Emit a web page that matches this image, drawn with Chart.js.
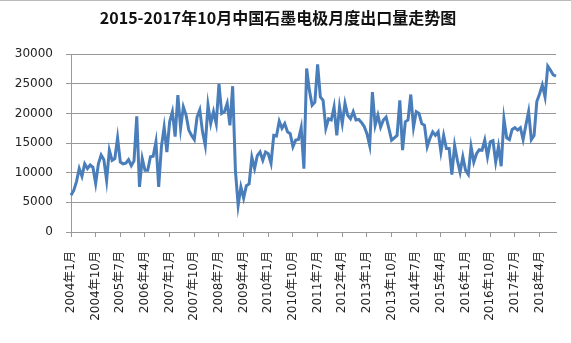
<!DOCTYPE html>
<html>
<head>
<meta charset="utf-8">
<script src="https://cdn.jsdelivr.net/npm/chart.js@4"></script>
<style>
  html, body { margin: 0; padding: 0; background: #fff; }
  .wrap { width: 571px; height: 343px; position: relative; box-sizing: border-box; border-top: 1px solid #bbb; }
</style>
</head>
<body>
<div class="wrap"><canvas id="chart" width="571" height="342"></canvas></div>
<script>
// Monthly categories, 2004年1月 .. 2018年10月
const startYear = 2004
const monthCount = 178
const months = []
for (let i = 0; i < monthCount; i++) {
  months.push(`${startYear + Math.floor(i / 12)}年${(i % 12) + 1}月`)
}

// Export volume
const exportVolume = [
  6200, 7000, 8500, 10700, 9400, 11500, 10700, 11300, 10900, 8200, 11500, 13000,
  12200, 8700, 13800, 12100, 12400, 15900, 11800, 11500, 11600, 12200, 11200, 12000,
  19500, 7600, 12400, 10400, 10400, 12700, 12800, 15200, 7600, 14400, 17700, 13500,
  18600, 20300, 16100, 23100, 17500, 21100, 19700, 17200, 16300, 15600, 19400, 20600,
  16900, 14600, 21400, 18300, 20300, 18300, 25000, 20000, 20300, 21700, 18000, 24600,
  10400, 4500, 7600, 5700, 7800, 8100, 12600, 10700, 12900, 13500, 12100, 13500,
  13200, 11600, 16300, 16200, 18700, 17500, 18300, 16900, 16600, 14400, 15500, 15600,
  17600, 10700, 27600, 23900, 21400, 21900, 28300, 22800, 22200, 17500, 19100, 18900,
  21100, 16300, 21100, 18300, 21700, 19700, 19100, 20300, 18900, 19000, 18500, 17800,
  16600, 14600, 23600, 18000, 19700, 17700, 18900, 19400, 17500, 15500, 15900, 16300,
  22200, 13800, 18600, 18900, 23200, 17700, 20300, 20000, 18300, 18000, 14400, 15800,
  16900, 16300, 16900, 13500, 16300, 14100, 14100, 9700, 14600, 12100, 10100, 12700,
  10400, 9700, 14400, 11800, 13200, 13900, 13800, 15500, 12700, 15200, 15400, 11800,
  14400, 11100, 19100, 15900, 15600, 17300, 17600, 17200, 17600, 15600, 18000, 20300,
  15600, 16300, 22000, 23300, 24800, 22800, 28000, 27300, 26500, 26300
]

const yTicks = [0, 5000, 10000, 15000, 20000, 25000, 30000]
const labelEvery = 9
const titleText = '2015-2017年10月中国石墨电极月度出口量走势图'

const tickFont = { family: '"DejaVu Sans", "Noto Sans CJK SC", sans-serif', size: 12 }

new Chart(document.getElementById('chart'), {
  type: 'line',
  data: {
    labels: months,
    datasets: [{
      data: exportVolume,
      borderColor: '#4A7EBB',
      borderWidth: 3,
      pointRadius: 0,
      tension: 0,
      fill: false
    }]
  },
  options: {
    responsive: false,
    animation: false,
    layout: { padding: { left: 0, right: 15, top: 0, bottom: 0 } },
    plugins: {
      legend: { display: false },
      tooltip: { enabled: false },
      title: {
        display: true,
        text: titleText,
        color: '#111',
        font: { family: '"Noto Sans CJK SC", sans-serif', size: 16, weight: 'bold' },
        padding: { top: 7, bottom: 27 }
      }
    },
    scales: {
      x: {
        afterFit: scale => { scale.height = 111 },
        grid: { drawOnChartArea: false, drawTicks: true, tickLength: 5, color: '#999' },
        border: { color: '#999' },
        ticks: {
          autoSkip: false,
          maxRotation: 90,
          minRotation: 90,
          padding: 14,
          color: '#222',
          font: tickFont,
          callback: (val, i) => i % labelEvery === 0 ? months[i] : null
        }
      },
      y: {
        min: yTicks[0],
        max: yTicks[yTicks.length - 1],
        afterFit: scale => { scale.width = 71 },
        afterBuildTicks: scale => { scale.ticks = yTicks.map(v => ({ value: v })) },
        grid: { color: '#999', tickLength: 5 },
        border: { color: '#999' },
        ticks: {
          padding: 13,
          color: '#222',
          font: tickFont,
          callback: v => String(v)
        }
      }
    }
  }
})
</script>
</body>
</html>
